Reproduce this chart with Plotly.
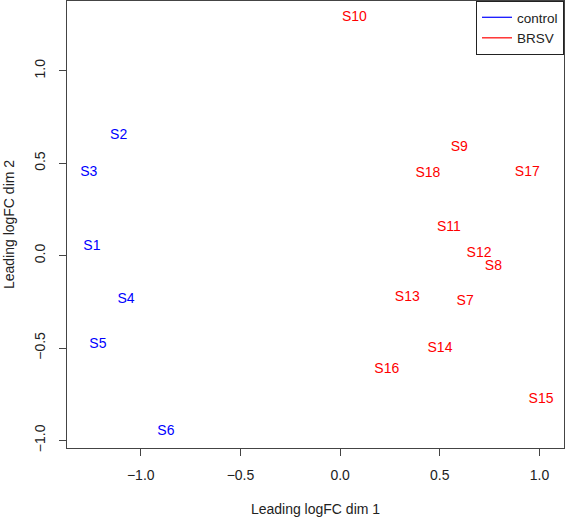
import plotly.graph_objects as go

labels = ["S1", "S2", "S3", "S4", "S5", "S6", "S7", "S8", "S9", "S10",
          "S11", "S12", "S13", "S14", "S15", "S16", "S17", "S18"]
dim1 = [-1.245, -1.111, -1.261, -1.074, -1.215, -0.874, 0.627, 0.769, 0.598, 0.072,
        0.546, 0.697, 0.337, 0.501, 1.008, 0.234, 0.939, 0.440]
dim2 = [0.051, 0.649, 0.450, -0.237, -0.481, -0.954, -0.250, -0.061, 0.584, 1.290,
        0.151, 0.012, -0.228, -0.505, -0.779, -0.615, 0.448, 0.445]
groups = ["control"] * 6 + ["BRSV"] * 12
group_names = ["control", "BRSV"]
group_colors = {"control": "#0000FF", "BRSV": "#FF0000"}

FONT = "Liberation Sans, Arial, Helvetica, sans-serif"

fig = go.Figure()
for g in group_names:
    idx = [i for i, gg in enumerate(groups) if gg == g]
    fig.add_trace(go.Scatter(
        x=[dim1[i] for i in idx], y=[dim2[i] for i in idx],
        text=[labels[i] for i in idx], mode="text",
        textposition="middle center",
        textfont=dict(color=group_colors[g], size=14, family=FONT),
        showlegend=False, hoverinfo="text"))
for g in group_names:
    fig.add_trace(go.Scatter(
        x=[None], y=[None], mode="lines", name=g,
        line=dict(color=group_colors[g], width=1.2)))

axis_common = dict(
    showline=True, mirror=True, linecolor="#444", linewidth=1.3,
    ticks="outside", ticklen=7, tickcolor="#444", tickwidth=1.3,
    showgrid=False, zeroline=False,
    tickfont=dict(size=14, family=FONT, color="#222"),
    title_font=dict(size=14, family=FONT, color="#222"),
)

fig.update_layout(
    width=566, height=517,
    margin=dict(l=67, r=2, t=1, b=69),
    paper_bgcolor="white", plot_bgcolor="white",
    font=dict(family=FONT, size=14, color="#222"),
    xaxis=dict(range=[-1.370, 1.123], tickvals=[-1.0, -0.5, 0.0, 0.5, 1.0],
               ticktext=["\u22121.0", "\u22120.5", "0.0", "0.5", "1.0"],
               title=dict(text="Leading logFC dim 1", standoff=22),
               ticklabelstandoff=7, **axis_common),
    yaxis=dict(range=[-1.041, 1.378], tickvals=[-1.0, -0.5, 0.0, 0.5, 1.0],
               ticktext=["\u22121.0", "\u22120.5", "0.0", "0.5", "1.0"],
               tickangle=-90,
               title=dict(text="Leading logFC dim 2", standoff=14),
               ticklabelstandoff=8, **axis_common),
    legend=dict(x=1, y=1, xanchor="right", yanchor="top",
                bordercolor="#222", borderwidth=1, bgcolor="white",
                font=dict(size=13.5, family=FONT, color="#222"),
                itemwidth=30, tracegroupgap=0),
)

fig.write_html("out.html",
               config={"displayModeBar": False},
               post_script="document.body.style.margin='0px';document.body.style.overflow='hidden';")
